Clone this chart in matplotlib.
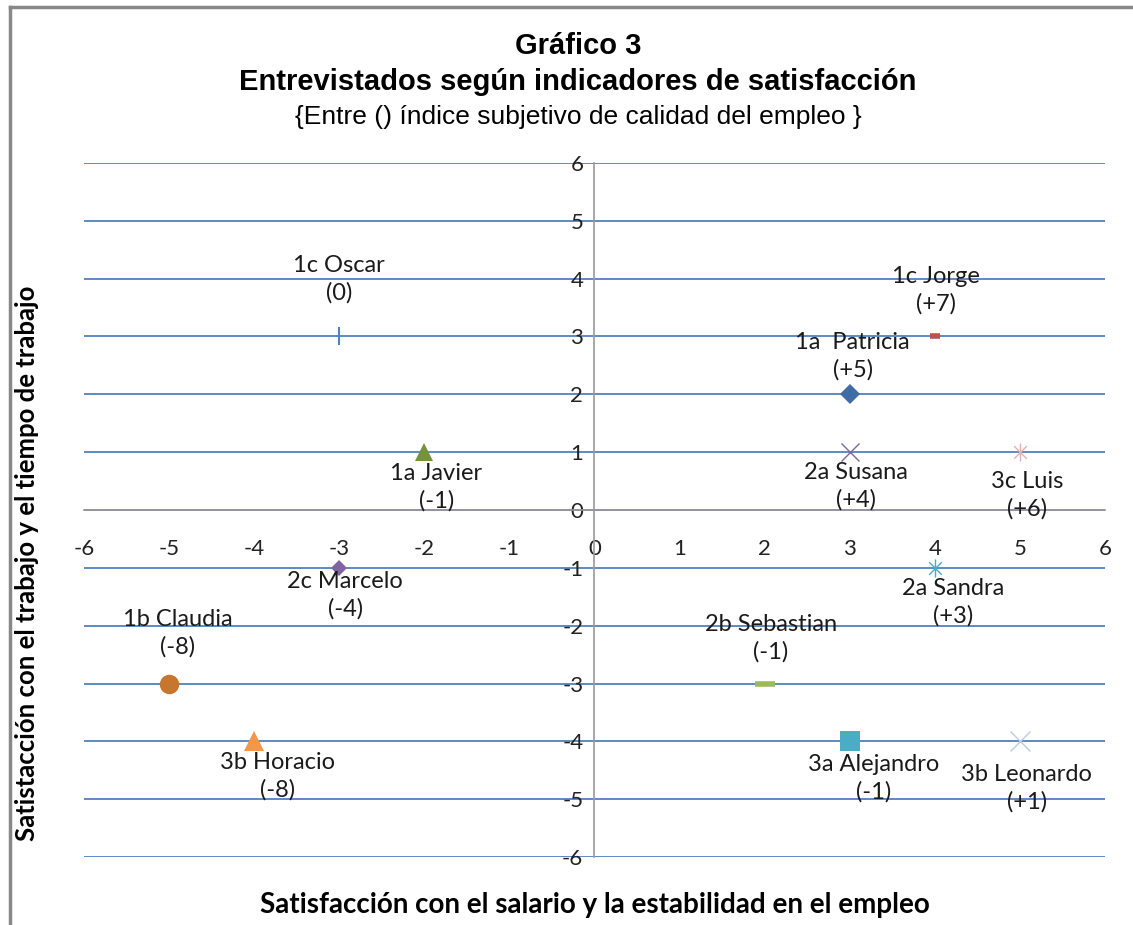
import matplotlib
matplotlib.use("Agg")
import matplotlib.pyplot as plt
from matplotlib.path import Path
from matplotlib.lines import Line2D

plt.rcParams["axes.unicode_minus"] = False

# Datos
nombres = ["1c Oscar", "1c Jorge", "1a  Patricia", "1a Javier", "2a Susana", "3c Luis",
           "2c Marcelo", "2a Sandra", "2b Sebastian", "1b Claudia", "3b Horacio",
           "3a Alejandro", "3b Leonardo"]
indices = ["(0)", "(+7)", "(+5)", "(-1)", "(+4)", "(+6)",
           "(-4)", "(+3)", "(-1)", "(-8)", "(-8)", "(-1)", "(+1)"]
salario = [-3, 4, 3, -2, 3, 5, -3, 4, 2, -5, -4, 3, 5]
trabajo = [3, 3, 2, 1, 1, 1, -1, -1, -3, -3, -4, -4, -4]
ticks = list(range(-6, 7))

# asterisco estilo Excel (x + linea vertical)
star = Path([(0, -1), (0, 1), (-0.7, -0.7), (0.7, 0.7), (-0.7, 0.7), (0.7, -0.7)],
            [Path.MOVETO, Path.LINETO] * 3)

# estilos de marcador: (marker, color, size, edge width)
estilos = [
    ("|", "#4F81BD", 13, 1.5),
    ("_", "#C0504D", 7, 4),
    ("D", "#3F6CA6", 10, 0),
    ("^", "#76933C", 13, 0),
    ("x", "#8064A2", 13, 1),
    (star, "#E6B0AE", 13, 1),
    ("D", "#8064A2", 8, 0),
    (star, "#4BACC6", 13, 1),
    ("_", "#9BBB59", 14, 4),
    ("o", "#C7762E", 14, 0),
    ("^", "#F79646", 14, 0),
    ("s", "#4BACC6", 14, 0),
    ("x", "#B9CDE5", 14, 1),
]
# desplazamiento de las etiquetas (pixeles)
offsets = [(0, 57), (1, 46), (3, 38), (12, -35), (6, -34), (7, -43),
           (6, -27), (18, -34), (6, 45), (9, 50), (23, -35), (24, -37), (7, -47)]

fig = plt.figure(figsize=(11.33, 9.25), dpi=100)
fig.patch.set_facecolor("white")
ax = fig.add_axes([0.0741, 0.0735, 0.9012, 0.7503])

ax.set_xlim(-6, 6)
ax.set_ylim(-6, 6)
ax.set_xticks(ticks)
ax.set_yticks(ticks)
ax.set_axisbelow(True)
ax.yaxis.grid(True, color="#4F81BD", lw=1.3)

for s in ["top", "right"]:
    ax.spines[s].set_visible(False)
ax.spines["left"].set_position(("data", 0))
ax.spines["bottom"].set_position(("data", 0))
for s in ["left", "bottom"]:
    ax.spines[s].set_color("#9A9A9A")
    ax.spines[s].set_linewidth(1.2)

ax.tick_params(axis="both", length=0, labelsize=16, labelcolor="#222222")
ax.tick_params(axis="x", pad=21)
ax.tick_params(axis="y", pad=8)
for lab in ax.get_xticklabels() + ax.get_yticklabels():
    lab.set_family("Lato")

for i in range(len(nombres)):
    m, c, ms, mew = estilos[i]
    ax.plot(salario[i], trabajo[i], marker=m, color=c, markersize=ms,
            markeredgewidth=mew, linestyle="none", zorder=3, clip_on=False)
    ax.annotate(nombres[i] + "\n" + indices[i], (salario[i], trabajo[i]),
                xytext=offsets[i], textcoords="offset pixels",
                ha="center", va="center", fontsize=17, family="Lato",
                color="#1a1a1a", linespacing=1.35, zorder=4)

# titulos
fig.text(0.51, 0.950, "Gráfico 3", ha="center", va="center", fontsize=21,
         fontweight="bold", family="Liberation Sans")
fig.text(0.51, 0.911, "Entrevistados según indicadores de satisfacción", ha="center",
         va="center", fontsize=21, fontweight="bold", family="Liberation Sans")
fig.text(0.51, 0.874, "{Entre () índice subjetivo de calidad del empleo }", ha="center",
         va="center", fontsize=19, family="Liberation Sans")

fig.text(0.525, 1 - 905 / 925, "Satisfacción con el salario y la estabilidad en el empleo",
         ha="center", va="center", fontsize=20, fontweight="bold", family="Lato")
fig.text(27 / 1133, 1 - 563 / 925, "Satistacción con el trabajo y el tiempo de trabajo",
         ha="center", va="center", rotation=90, fontsize=18.5, fontweight="bold", family="Lato")

# marco gris
fig.add_artist(Line2D([10 / 1133, 1], [1 - 7 / 925, 1 - 7 / 925], color="#888888", lw=2.5))
fig.add_artist(Line2D([10 / 1133, 10 / 1133], [0, 1 - 7 / 925], color="#888888", lw=2.5))

fig.savefig("out.png", dpi=100)
